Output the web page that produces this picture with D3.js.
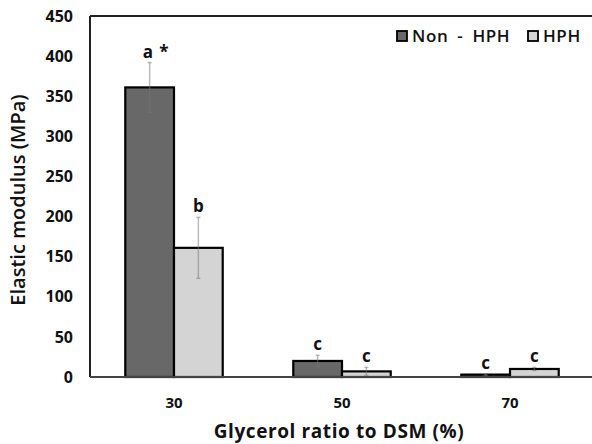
<!DOCTYPE html>
<html><head><meta charset="utf-8">
<script src="https://cdn.jsdelivr.net/npm/d3@7"></script>
<style>body{margin:0;background:#fff}svg{display:block;font-family:"Open Sans",sans-serif;font-weight:bold}</style>
</head><body><svg id="c" width="592" height="444"></svg>
<script>
const categories = ["30","50","70"];
const seriesNames = ["Non - HPH","HPH"];
const nonHPH = [361, 20, 3];
const hph = [161, 7, 10];
const nonHPHErr = [31, 7, 1];
const hphErr = [38, 5, 2];
const nonHPHLabels = ["a *","c","c"];
const hphLabels = ["b","c","c"];
const yTicks = [0,50,100,150,200,250,300,350,400,450];
const colors = ["#686868","#d4d4d4"];

const svg = d3.select("#c");
const m = {l:90, t:16, r:-2, b:67};
const W = 592, H = 444;
const x0 = d3.scaleBand().domain(categories).range([m.l, W - m.r]).paddingInner(0.42).paddingOuter(0.21);
const x1 = d3.scaleBand().domain(seriesNames).range([0, x0.bandwidth()]);
const y = d3.scaleLinear().domain([0,450]).range([H - m.b, m.t]);

const data = categories.map((c,i)=>({c, vals:[
  {s:seriesNames[0], v:nonHPH[i], e:nonHPHErr[i], lab:nonHPHLabels[i], col:colors[0]},
  {s:seriesNames[1], v:hph[i], e:hphErr[i], lab:hphLabels[i], col:colors[1]}
]}));

// frame lines: top and left
svg.append("line").attr("x1", m.l).attr("x2", W).attr("y1", y(450)).attr("y2", y(450)).attr("stroke","#222").attr("stroke-width",2);
svg.append("line").attr("x1", m.l).attr("x2", m.l).attr("y1", y(450)).attr("y2", y(0)).attr("stroke","#222").attr("stroke-width",2);

const g = svg.selectAll("g.cat").data(data).join("g").attr("transform", d=>`translate(${x0(d.c)},0)`);
g.selectAll("rect").data(d=>d.vals).join("rect")
  .attr("x", d=>x1(d.s)).attr("width", x1.bandwidth())
  .attr("y", d=>y(d.v)).attr("height", d=>y(0)-y(d.v))
  .attr("fill", d=>d.col).attr("stroke","#000").attr("stroke-width",2.2);

const eb = g.selectAll("g.eb").data(d=>d.vals).join("g").attr("class","eb");
const cx = d=>x1(d.s)+x1.bandwidth()/2;
const ebc = "rgba(120,120,120,0.5)";
eb.append("line").attr("x1",cx).attr("x2",cx).attr("y1",d=>y(d.v+d.e)).attr("y2",d=>y(Math.max(0,d.v-d.e)))
  .attr("stroke",ebc).attr("stroke-width",1.5);
eb.append("line").attr("x1",d=>cx(d)-2).attr("x2",d=>cx(d)+2).attr("y1",d=>y(d.v+d.e)).attr("y2",d=>y(d.v+d.e))
  .attr("stroke",ebc).attr("stroke-width",1.5);
eb.append("line").attr("x1",d=>cx(d)-2).attr("x2",d=>cx(d)+2).attr("y1",d=>y(Math.max(0,d.v-d.e))).attr("y2",d=>y(Math.max(0,d.v-d.e)))
  .attr("stroke",ebc).attr("stroke-width",1.5);
eb.append("text").attr("x",d=>cx(d)+(d.lab.length>1?6:0)).attr("y",d=>y(d.v+d.e)-5)
  .attr("text-anchor","middle").attr("font-size",17).attr("fill","#111").attr("word-spacing",2).text(d=>d.lab);

// x axis line
svg.append("line").attr("x1", m.l).attr("x2", W).attr("y1", y(0)).attr("y2", y(0)).attr("stroke","#444").attr("stroke-width",2);

// y tick labels
svg.append("g").attr("transform",`translate(${m.l},0)`)
  .call(d3.axisLeft(y).tickValues(yTicks).tickSize(0).tickPadding(17))
  .call(a=>a.select(".domain").remove())
  .call(a=>a.selectAll("text").attr("font-size",16).attr("font-family","'Open Sans',sans-serif").attr("font-weight","bold").attr("fill","#111"));

// x tick labels
svg.append("g").attr("transform",`translate(0,${y(0)})`)
  .call(d3.axisBottom(x0).tickSize(0).tickPadding(20))
  .call(a=>a.select(".domain").remove())
  .call(a=>a.selectAll("text").attr("font-size",15).attr("font-family","'Open Sans',sans-serif").attr("font-weight","bold").attr("fill","#111"));

// axis titles
svg.append("text").attr("x", 339).attr("y", 438).attr("text-anchor","middle").attr("font-size",19).attr("font-weight","bold").attr("letter-spacing",0.6).attr("fill","#111").text("Glycerol ratio to DSM (%)");
svg.append("text").attr("transform","translate(25,200) rotate(-90)").attr("text-anchor","middle").attr("font-size",20).attr("font-weight",600).attr("fill","#111").text("Elastic modulus (MPa)");

// legend
const lg = svg.append("g");
const legX = [397, 528];
seriesNames.forEach((s,i)=>{
  lg.append("rect").attr("x",legX[i]).attr("y",31).attr("width",10).attr("height",10).attr("fill",colors[i]).attr("stroke","#000").attr("stroke-width",1.8);
  lg.append("text").attr("x",legX[i]+15).attr("y",42).attr("font-size",17).attr("font-weight",600).attr("letter-spacing",0.6).attr("word-spacing",4).attr("fill","#111").text(s);
});
</script></body></html>
